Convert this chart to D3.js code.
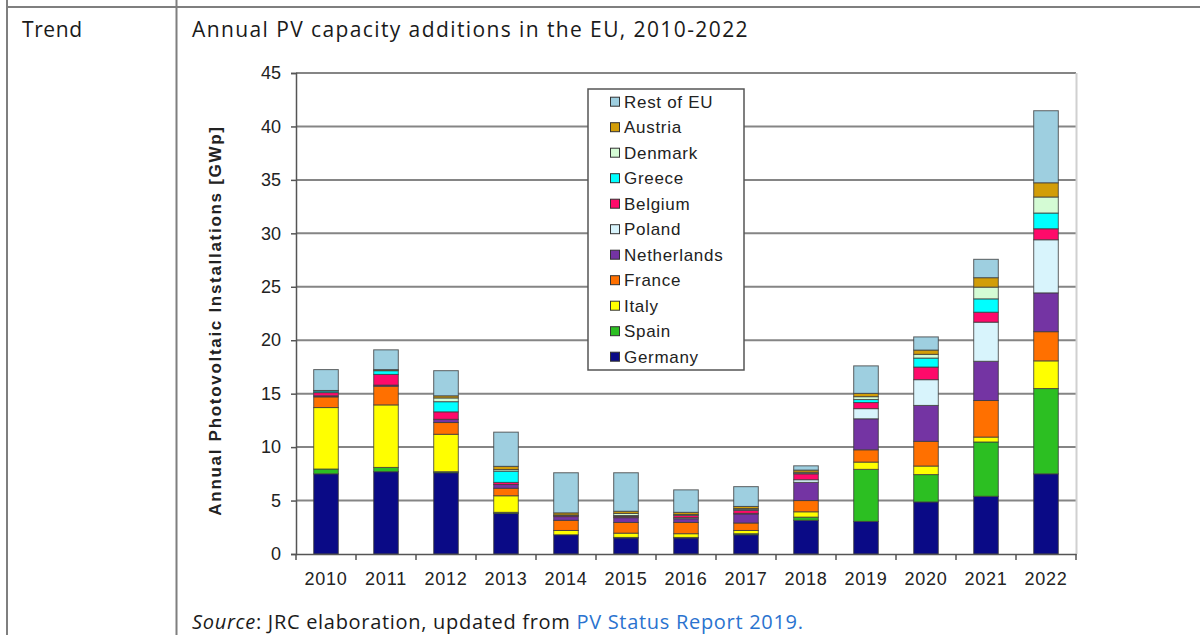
<!DOCTYPE html>
<html>
<head>
<meta charset="utf-8">
<script src="https://cdn.jsdelivr.net/npm/d3@7"></script>
<style>
  html, body { margin: 0; padding: 0; background: #fff; }
  svg { display: block; }
</style>
</head>
<body>
<svg id="chart" width="1200" height="635"></svg>
<script>
// Annual PV capacity additions in the EU (GWp), stacked by country
const years = ["2010","2011","2012","2013","2014","2015","2016","2017","2018","2019","2020","2021","2022"];

const germany     = [7.5, 7.7, 7.6, 3.8, 1.8, 1.5, 1.5, 1.8, 3.15, 3.05, 4.87, 5.4, 7.5];
const spain       = [0.45, 0.4, 0.1, 0.1, 0, 0.05, 0.05, 0.1, 0.3, 4.87, 2.56, 5.08, 7.98];
const italy       = [5.75, 5.85, 3.5, 1.55, 0.4, 0.4, 0.35, 0.3, 0.5, 0.68, 0.8, 0.46, 2.59];
const france      = [1.0, 1.75, 1.1, 0.7, 0.95, 1.0, 1.05, 0.7, 1.05, 1.15, 2.31, 3.42, 2.73];
const netherlands = [0.1, 0.1, 0.3, 0.35, 0.35, 0.45, 0.35, 0.85, 1.7, 2.9, 3.36, 3.67, 3.63];
const poland      = [0, 0, 0, 0, 0, 0.05, 0.1, 0.05, 0.25, 0.95, 2.41, 3.66, 4.97];
const belgium     = [0.3, 1.0, 0.7, 0.2, 0.1, 0.1, 0.2, 0.3, 0.55, 0.57, 1.18, 0.93, 1.03];
const greece      = [0.15, 0.35, 0.95, 1.05, 0, 0.05, 0, 0.05, 0.05, 0.28, 0.84, 1.25, 1.47];
const denmark     = [0, 0, 0.35, 0.15, 0.05, 0.2, 0.1, 0.1, 0.1, 0.27, 0.35, 1.1, 1.5];
const austria     = [0.05, 0.1, 0.2, 0.3, 0.2, 0.2, 0.2, 0.2, 0.2, 0.31, 0.4, 0.88, 1.33];
const restOfEU    = [1.95, 1.85, 2.35, 3.2, 3.75, 3.6, 2.1, 1.85, 0.4, 2.57, 1.23, 1.72, 6.74];

// stacking order, bottom to top
const seriesNames  = ["Germany","Spain","Italy","France","Netherlands","Poland","Belgium","Greece","Denmark","Austria","Rest of EU"];
const seriesValues = [germany, spain, italy, france, netherlands, poland, belgium, greece, denmark, austria, restOfEU];
const seriesColors = ["#0a0a86","#2cbf22","#ffff00","#ff7000","#7434a3","#d8f4fc","#ff0a6a","#00ffff","#d4fbd4","#d29d08","#9ecfe0"];

const yTicks = [0, 5, 10, 15, 20, 25, 30, 35, 40, 45];

const chartFont = "'Liberation Sans', Arial, sans-serif";
const docFont = "'Open Sans', 'Noto Sans', sans-serif";

const rows = years.map((yr, i) => {
  const r = { year: yr };
  seriesNames.forEach((n, k) => { r[n] = seriesValues[k][i]; });
  return r;
});

const svg = d3.select("#chart");

// table frame
const frame = svg.append("g").attr("stroke", "#7f7f7f").attr("stroke-width", 2);
frame.append("line").attr("x1", 7).attr("x2", 7).attr("y1", 0).attr("y2", 635);
frame.append("line").attr("x1", 176.5).attr("x2", 176.5).attr("y1", 0).attr("y2", 635);
frame.append("line").attr("x1", 6).attr("x2", 1200).attr("y1", 7).attr("y2", 7);

svg.append("text").attr("x", 22).attr("y", 37)
  .attr("font-family", docFont).attr("font-size", 21).attr("letter-spacing", 0.6).attr("fill", "#1a1a1a")
  .text("Trend");

svg.append("text").attr("x", 192).attr("y", 37)
  .attr("font-family", docFont).attr("font-size", 21).attr("letter-spacing", 1.4).attr("fill", "#1a1a1a")
  .text("Annual PV capacity additions in the EU, 2010-2022");

const src = svg.append("text").attr("x", 192).attr("y", 629)
  .attr("font-family", docFont).attr("font-size", 20).attr("letter-spacing", 0.7).attr("fill", "#1a1a1a");
src.append("tspan").attr("font-style", "italic").text("Source");
src.append("tspan").text(": JRC elaboration, updated from ");
src.append("tspan").attr("fill", "#2a73cf").text("PV Status Report 2019.");

// scales
const x = d3.scaleBand().domain(years).range([296, 1076]).paddingInner(0.59).paddingOuter(0.295);
const y = d3.scaleLinear().domain([0, 45]).range([554, 73]);

// gridlines
svg.append("g").selectAll("line").data(yTicks.filter(d => d > 0)).join("line")
  .attr("x1", 296).attr("x2", 1076)
  .attr("y1", d => y(d)).attr("y2", d => y(d))
  .attr("stroke", "#858585").attr("stroke-width", 2);

// right edge of plot area
svg.append("line").attr("x1", 1076.5).attr("x2", 1076.5).attr("y1", y(45)).attr("y2", y(0))
  .attr("stroke", "#d0d0d0").attr("stroke-width", 2);

// stacked bars
const stacked = d3.stack().keys(seriesNames)(rows);
svg.append("g").selectAll("g").data(stacked).join("g")
  .attr("fill", (d, i) => seriesColors[i])
  .selectAll("rect").data(d => d.filter(s => s[1] - s[0] > 0)).join("rect")
  .attr("x", d => x(d.data.year))
  .attr("width", x.bandwidth())
  .attr("y", d => y(d[1]))
  .attr("height", d => y(d[0]) - y(d[1]))
  .attr("stroke", "#3c3c3c").attr("stroke-opacity", 0.8).attr("stroke-width", 1);

// y axis
const yAxis = svg.append("g").attr("transform", "translate(296,0)")
  .call(d3.axisLeft(y).tickValues(yTicks).tickSize(5).tickPadding(10).tickFormat(d3.format("d")));
yAxis.select(".domain").attr("stroke", "#555").attr("stroke-width", 1.5);
yAxis.selectAll(".tick line").attr("stroke", "#555").attr("stroke-width", 1.5);
yAxis.selectAll("text").attr("font-family", chartFont).attr("font-size", 18).attr("fill", "#222");

// x axis: baseline, separator ticks, year labels
const xAxis = svg.append("g").attr("transform", `translate(0,${y(0)})`)
  .call(d3.axisBottom(x).tickSize(0).tickPadding(18));
xAxis.select(".domain").attr("stroke", "#555").attr("stroke-width", 1.5);
xAxis.selectAll("text").attr("font-family", chartFont).attr("font-size", 18)
  .attr("letter-spacing", 0.8).attr("fill", "#222");
const gap = (x.step() - x.bandwidth()) / 2;
const sepX = years.map(d => x(d) - gap).concat([x(years[years.length - 1]) + x.bandwidth() + gap]);
svg.append("g").selectAll("line").data(sepX).join("line")
  .attr("x1", d => d).attr("x2", d => d)
  .attr("y1", y(0)).attr("y2", y(0) + 6)
  .attr("stroke", "#555").attr("stroke-width", 1.5);

// y axis title
svg.append("text")
  .attr("transform", `translate(221,${(y(0) + y(45)) / 2 + 7}) rotate(-90)`)
  .attr("text-anchor", "middle")
  .attr("font-family", chartFont).attr("font-size", 17).attr("font-weight", "bold")
  .attr("letter-spacing", 1.7).attr("fill", "#222")
  .text("Annual Photovoltaic Installations  [GWp]");

// legend, top entry first
const legend = svg.append("g").attr("transform", "translate(588,89)");
legend.append("rect").attr("width", 156).attr("height", 281)
  .attr("fill", "#fff").attr("stroke", "#555").attr("stroke-width", 1.5);
const legendOrder = seriesNames.map((n, i) => ({ name: n, color: seriesColors[i] })).reverse();
const item = legend.selectAll("g.item").data(legendOrder).join("g")
  .attr("class", "item")
  .attr("transform", (d, i) => `translate(0,${12.7 + i * 25.5})`);
item.append("rect").attr("x", 22.5).attr("y", -4.5).attr("width", 9).attr("height", 9)
  .attr("fill", d => d.color).attr("stroke", "#333").attr("stroke-width", 1);
item.append("text").attr("x", 36).attr("y", 6)
  .attr("font-family", chartFont).attr("font-size", 17).attr("letter-spacing", 0.7).attr("fill", "#222")
  .text(d => d.name);
</script>
</body>
</html>
